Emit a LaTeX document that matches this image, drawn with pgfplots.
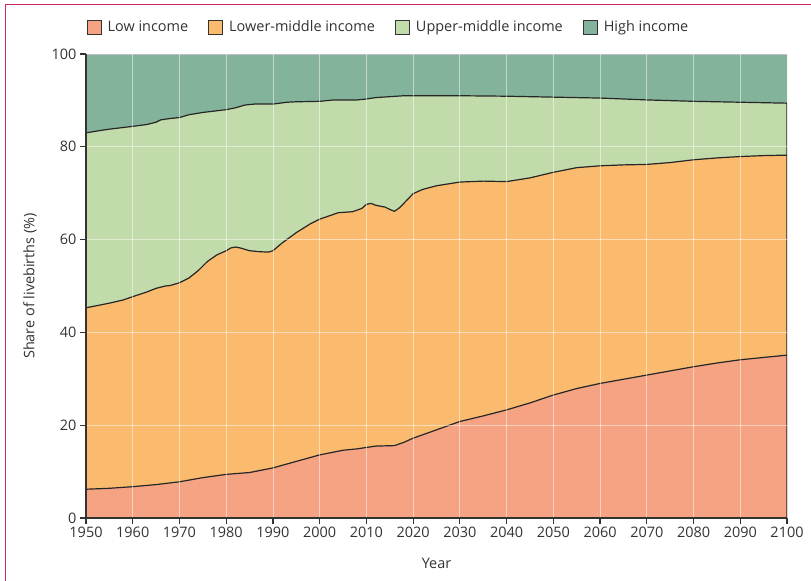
\documentclass[border=0pt]{standalone}
\usepackage{pgfplots}
\pgfplotsset{compat=1.18}
\usepackage{fontspec}
\setmainfont{Open Sans}
\definecolor{lowc}{HTML}{F5A383}
\definecolor{lmc}{HTML}{FBBB6E}
\definecolor{umc}{HTML}{C2DBAA}
\definecolor{hic}{HTML}{84B39B}
\definecolor{framec}{HTML}{C8285A}
\definecolor{txt}{HTML}{333333}
\begin{document}
\begin{tikzpicture}[x=1bp,y=1bp]
\useasboundingbox (0,0) rectangle (811,581);
\draw[framec, line width=1bp] (5,0) -- (5,576) -- (811,576);
\begin{axis}[
  at={(86bp,63bp)}, anchor=south west,
  scale only axis, width=701bp, height=464bp,
  xmin=1950, xmax=2100, ymin=0, ymax=100,
  xtick={1950,1960,...,2100}, ytick={0,20,...,100},
  axis lines*=left,
  axis line style={txt, line width=1.2bp},
  tick align=outside, major tick length=6bp,
  tick style={txt, line width=1.2bp},
  every tick label/.append style={font=\fontsize{14.5}{16}\selectfont, text=txt},
  /pgf/number format/assume math mode=true,
  /pgf/number format/1000 sep={},
  grid=major, major grid style={white, opacity=0.5, line width=0.8bp},
  axis on top,
  xlabel={Year}, ylabel={Share of livebirths (\%)},
  every axis x label/.style={at={(axis description cs:0.5,-0.097)}, anchor=center, font=\fontsize{14.5}{16}\selectfont, text=txt},
  every axis y label/.style={at={(axis description cs:-0.08,0.5)}, anchor=center, rotate=90, font=\fontsize{14.5}{16}\selectfont, text=txt},
  legend columns=4,
  legend style={draw=none, fill=none, at={(axis description cs:0.4315,1.058)}, anchor=center,
    font=\fontsize{14.5}{16}\selectfont, text=txt,
    /tikz/every odd column/.append style={column sep=4bp},
    /tikz/every even column/.append style={column sep=18bp}},
  legend cell align=left,
  legend image code/.code={\draw[#1, line width=1bp] (0bp,-7bp) rectangle (14bp,7bp);},
]
\addlegendimage{fill=lowc, draw=txt}
\addlegendentry{Low income}
\addlegendimage{fill=lmc, draw=txt}
\addlegendentry{Lower-middle income}
\addlegendimage{fill=umc, draw=txt}
\addlegendentry{Upper-middle income}
\addlegendimage{fill=hic, draw=txt}
\addlegendentry{High income}
% high income: full area to 100
\addplot[fill=hic, draw=none, forget plot] coordinates {(1950,100) (2100,100)} \closedcycle;
% cumulative upper-middle
\addplot[fill=umc, draw=black!85, line width=1.2bp, forget plot] coordinates {
(1950,83.0) (1953,83.5) (1955,83.8) (1960,84.4) (1963,84.8) (1965,85.3) (1966,85.8) (1968,86.1)
(1970,86.3) (1972,86.9) (1975,87.4) (1980,88.0) (1982,88.4) (1984,89.0) (1986,89.2) (1990,89.2)
(1993,89.6) (1995,89.7) (2000,89.8) (2003,90.1) (2008,90.1) (2010,90.3) (2012,90.6) (2015,90.8)
(2018,91.0) (2020,91.0) (2030,91.0) (2040,90.9) (2050,90.7) (2060,90.5) (2070,90.1) (2080,89.8)
(2090,89.6) (2100,89.4)} \closedcycle;
% cumulative lower-middle
\addplot[fill=lmc, draw=black!85, line width=1.2bp, forget plot] coordinates {
(1950,45.3) (1953,45.9) (1955,46.3) (1958,47.0) (1960,47.7) (1963,48.7) (1965,49.5) (1967,50.0)
(1968,50.1) (1970,50.7) (1972,51.7) (1974,53.3) (1976,55.3) (1978,56.7) (1980,57.6) (1981,58.2)
(1982,58.4) (1983,58.2) (1985,57.6) (1987,57.4) (1989,57.3) (1990,57.6) (1992,59.3) (1995,61.5)
(1998,63.4) (2000,64.4) (2002,65.1) (2004,65.8) (2007,66.0) (2009,66.7) (2010,67.6) (2011,67.8)
(2012,67.4) (2014,67.0) (2015,66.5) (2016,66.1) (2017,66.8) (2018,67.8) (2020,69.9) (2022,70.8)
(2025,71.6) (2030,72.4) (2035,72.6) (2040,72.5) (2045,73.3) (2050,74.5) (2055,75.5) (2060,75.9)
(2065,76.1) (2070,76.2) (2075,76.6) (2080,77.2) (2085,77.6) (2090,77.9) (2095,78.1) (2100,78.2)} \closedcycle;
% low income
\addplot[fill=lowc, draw=black!85, line width=1.2bp, forget plot] coordinates {
(1950,6.2) (1955,6.4) (1960,6.75) (1965,7.2) (1970,7.8) (1975,8.7) (1980,9.4) (1985,9.8)
(1990,10.8) (1995,12.2) (2000,13.6) (2005,14.6) (2008,14.9) (2010,15.2) (2012,15.5) (2016,15.6)
(2018,16.3) (2020,17.2) (2025,19.0) (2030,20.8) (2035,22.0) (2040,23.3) (2045,24.8) (2050,26.5)
(2055,27.9) (2060,29.0) (2065,29.9) (2070,30.8) (2075,31.7) (2080,32.6) (2085,33.4) (2090,34.1)
(2095,34.6) (2100,35.1)} \closedcycle;
\draw[black!50, line width=0.8bp] (rel axis cs:0,1) -- (rel axis cs:1,1) -- (rel axis cs:1,0);
\end{axis}
\end{tikzpicture}
\end{document}
